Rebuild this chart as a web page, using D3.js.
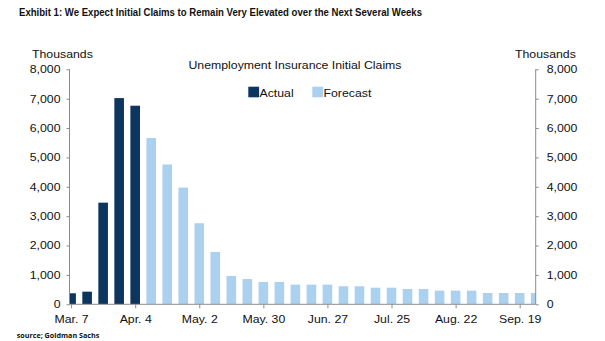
<!DOCTYPE html>
<html>
<head>
<meta charset="utf-8">
<script src="https://cdn.jsdelivr.net/npm/d3@7"></script>
<style>
  body { margin: 0; background: #fff; }
  svg { display: block; }
  .lbl { font-family: "Liberation Sans", Arial, sans-serif; font-size: 10.5px; fill: #111; }
</style>
</head>
<body>
<div id="chart"></div>
<script>
// weekly initial claims, thousands
const weeks = ["Mar. 7", "Mar. 14", "Mar. 21", "Mar. 28", "Apr. 4", "Apr. 11", "Apr. 18", "Apr. 25",
  "May. 2", "May. 9", "May. 16", "May. 23", "May. 30", "Jun. 6", "Jun. 13", "Jun. 20", "Jun. 27",
  "Jul. 4", "Jul. 11", "Jul. 18", "Jul. 25", "Aug. 1", "Aug. 8", "Aug. 15", "Aug. 22", "Aug. 29",
  "Sep. 5", "Sep. 12", "Sep. 19", "Sep. 26"]
const actual = [375, 430, 3460, 7020, 6760]
const forecast = [5660, 4760, 3975, 2760, 1780, 965, 860, 760, 760, 670, 670, 670, 615, 615,
  565, 565, 520, 520, 465, 465, 465, 385, 385, 385, 385]
const tickLabels = ["Mar. 7", "Apr. 4", "May. 2", "May. 30", "Jun. 27", "Jul. 25", "Aug. 22", "Sep. 19"]
const yTicks = [0, 1000, 2000, 3000, 4000, 5000, 6000, 7000, 8000]

const W = 605, H = 341
const plotLeft = 69.5, plotRight = 535.7, plotTop = 69.3, plotBottom = 304.3
const darkBlue = "#0c355f", lightBlue = "#abd1f1", axisGrey = "#8c8c8c"
const stretchK = 1.17

const svg = d3.select("#chart").append("svg")
  .attr("width", W)
  .attr("height", H)

// text in this chart is a bit wide, so widen glyphs a little
function stretch(sel, k) {
  sel.each(function () {
    const w = this.getComputedTextLength()
    d3.select(this).attr("textLength", w * k).attr("lengthAdjust", "spacingAndGlyphs")
  })
}

const x = d3.scaleLinear().domain([-0.1, weeks.length - 1]).range([plotLeft, plotRight])
const y = d3.scaleLinear().domain([0, 8000]).range([plotBottom, plotTop])

const data = weeks.map(function (w, i) {
  const isActual = i < actual.length
  return { week: w, i: i, value: isActual ? actual[i] : forecast[i - actual.length], actual: isActual }
})

svg.append("clipPath").attr("id", "plot-clip")
  .append("rect")
  .attr("x", plotLeft).attr("y", 0)
  .attr("width", plotRight - plotLeft).attr("height", plotBottom)

const barW = 9.6
svg.append("g")
  .attr("clip-path", "url(#plot-clip)")
  .selectAll("rect")
  .data(data)
  .enter()
  .append("rect")
  .attr("x", d => x(d.i) - barW / 2)
  .attr("y", d => y(d.value))
  .attr("width", barW)
  .attr("height", d => y(0) - y(d.value))
  .attr("fill", d => d.actual ? darkBlue : lightBlue)

// axes
const fmt = d3.format(",")
const yLeft = svg.append("g")
  .attr("transform", "translate(" + plotLeft + ",0)")
  .call(d3.axisLeft(y).tickValues(yTicks).tickFormat(fmt).tickSize(3).tickPadding(6))
const yRight = svg.append("g")
  .attr("transform", "translate(" + plotRight + ",0)")
  .call(d3.axisRight(y).tickValues(yTicks).tickFormat(fmt).tickSize(3).tickPadding(8))
const xAxis = svg.append("g")
  .attr("transform", "translate(0," + plotBottom + ")")
  .call(d3.axisBottom(x)
    .tickValues(tickLabels.map(l => weeks.indexOf(l)))
    .tickFormat(i => weeks[i])
    .tickSize(4).tickPadding(8))

;[yLeft, yRight, xAxis].forEach(function (g) {
  g.select(".domain").remove()
  g.selectAll(".tick line").attr("stroke", axisGrey)
  g.selectAll("text").attr("class", "lbl")
  g.attr("font-family", null).attr("font-size", null)
})

// plain axis lines, drawn over the bars
svg.append("line").attr("x1", plotLeft).attr("x2", plotLeft).attr("y1", plotTop).attr("y2", plotBottom)
  .attr("stroke", axisGrey)
svg.append("line").attr("x1", plotRight).attr("x2", plotRight).attr("y1", plotTop).attr("y2", plotBottom)
  .attr("stroke", axisGrey)
svg.append("line").attr("x1", plotLeft).attr("x2", plotRight).attr("y1", plotBottom).attr("y2", plotBottom)
  .attr("stroke", axisGrey)

xAxis.selectAll("text").attr("dy", null).attr("y", 19)
stretch(svg.selectAll(".tick text"), stretchK)

// titles
svg.append("text")
  .attr("x", 19).attr("y", 15.7)
  .attr("font-family", "'Liberation Sans Narrow', 'Arial Narrow', sans-serif")
  .attr("font-weight", "bold")
  .attr("font-size", 10)
  .attr("fill", "#111")
  .attr("textLength", 403)
  .attr("lengthAdjust", "spacingAndGlyphs")
  .text("Exhibit 1: We Expect Initial Claims to Remain Very Elevated over the Next Several Weeks")

const thL = svg.append("text").attr("class", "lbl")
  .attr("x", 32).attr("y", 58.3).text("Thousands")
const thR = svg.append("text").attr("class", "lbl")
  .attr("x", 515).attr("y", 58.3).text("Thousands")
const sub = svg.append("text").attr("class", "lbl")
  .attr("x", 295).attr("y", 68.8).attr("text-anchor", "middle")
  .text("Unemployment Insurance Initial Claims")
stretch(thL, stretchK); stretch(thR, stretchK); stretch(sub, stretchK)

// legend
const legend = [{ name: "Actual", color: darkBlue, x: 248.3 }, { name: "Forecast", color: lightBlue, x: 312.3 }]
const lg = svg.append("g").selectAll("g").data(legend).enter().append("g")
lg.append("rect")
  .attr("x", d => d.x).attr("y", 86.7)
  .attr("width", 10.8).attr("height", 10.6)
  .attr("fill", d => d.color)
const lgText = lg.append("text").attr("class", "lbl")
  .attr("x", d => d.x + 11.2).attr("y", 96.5)
  .text(d => d.name)
stretch(lgText, stretchK)

svg.append("text")
  .attr("x", 16.7).attr("y", 337.5)
  .attr("font-family", "'Open Sans', sans-serif")
  .attr("font-weight", "bold")
  .attr("font-size", 7.3)
  .attr("fill", "#111")
  .attr("textLength", 82.6)
  .attr("lengthAdjust", "spacingAndGlyphs")
  .text("source; Goldman Sachs")
</script>
</body>
</html>
